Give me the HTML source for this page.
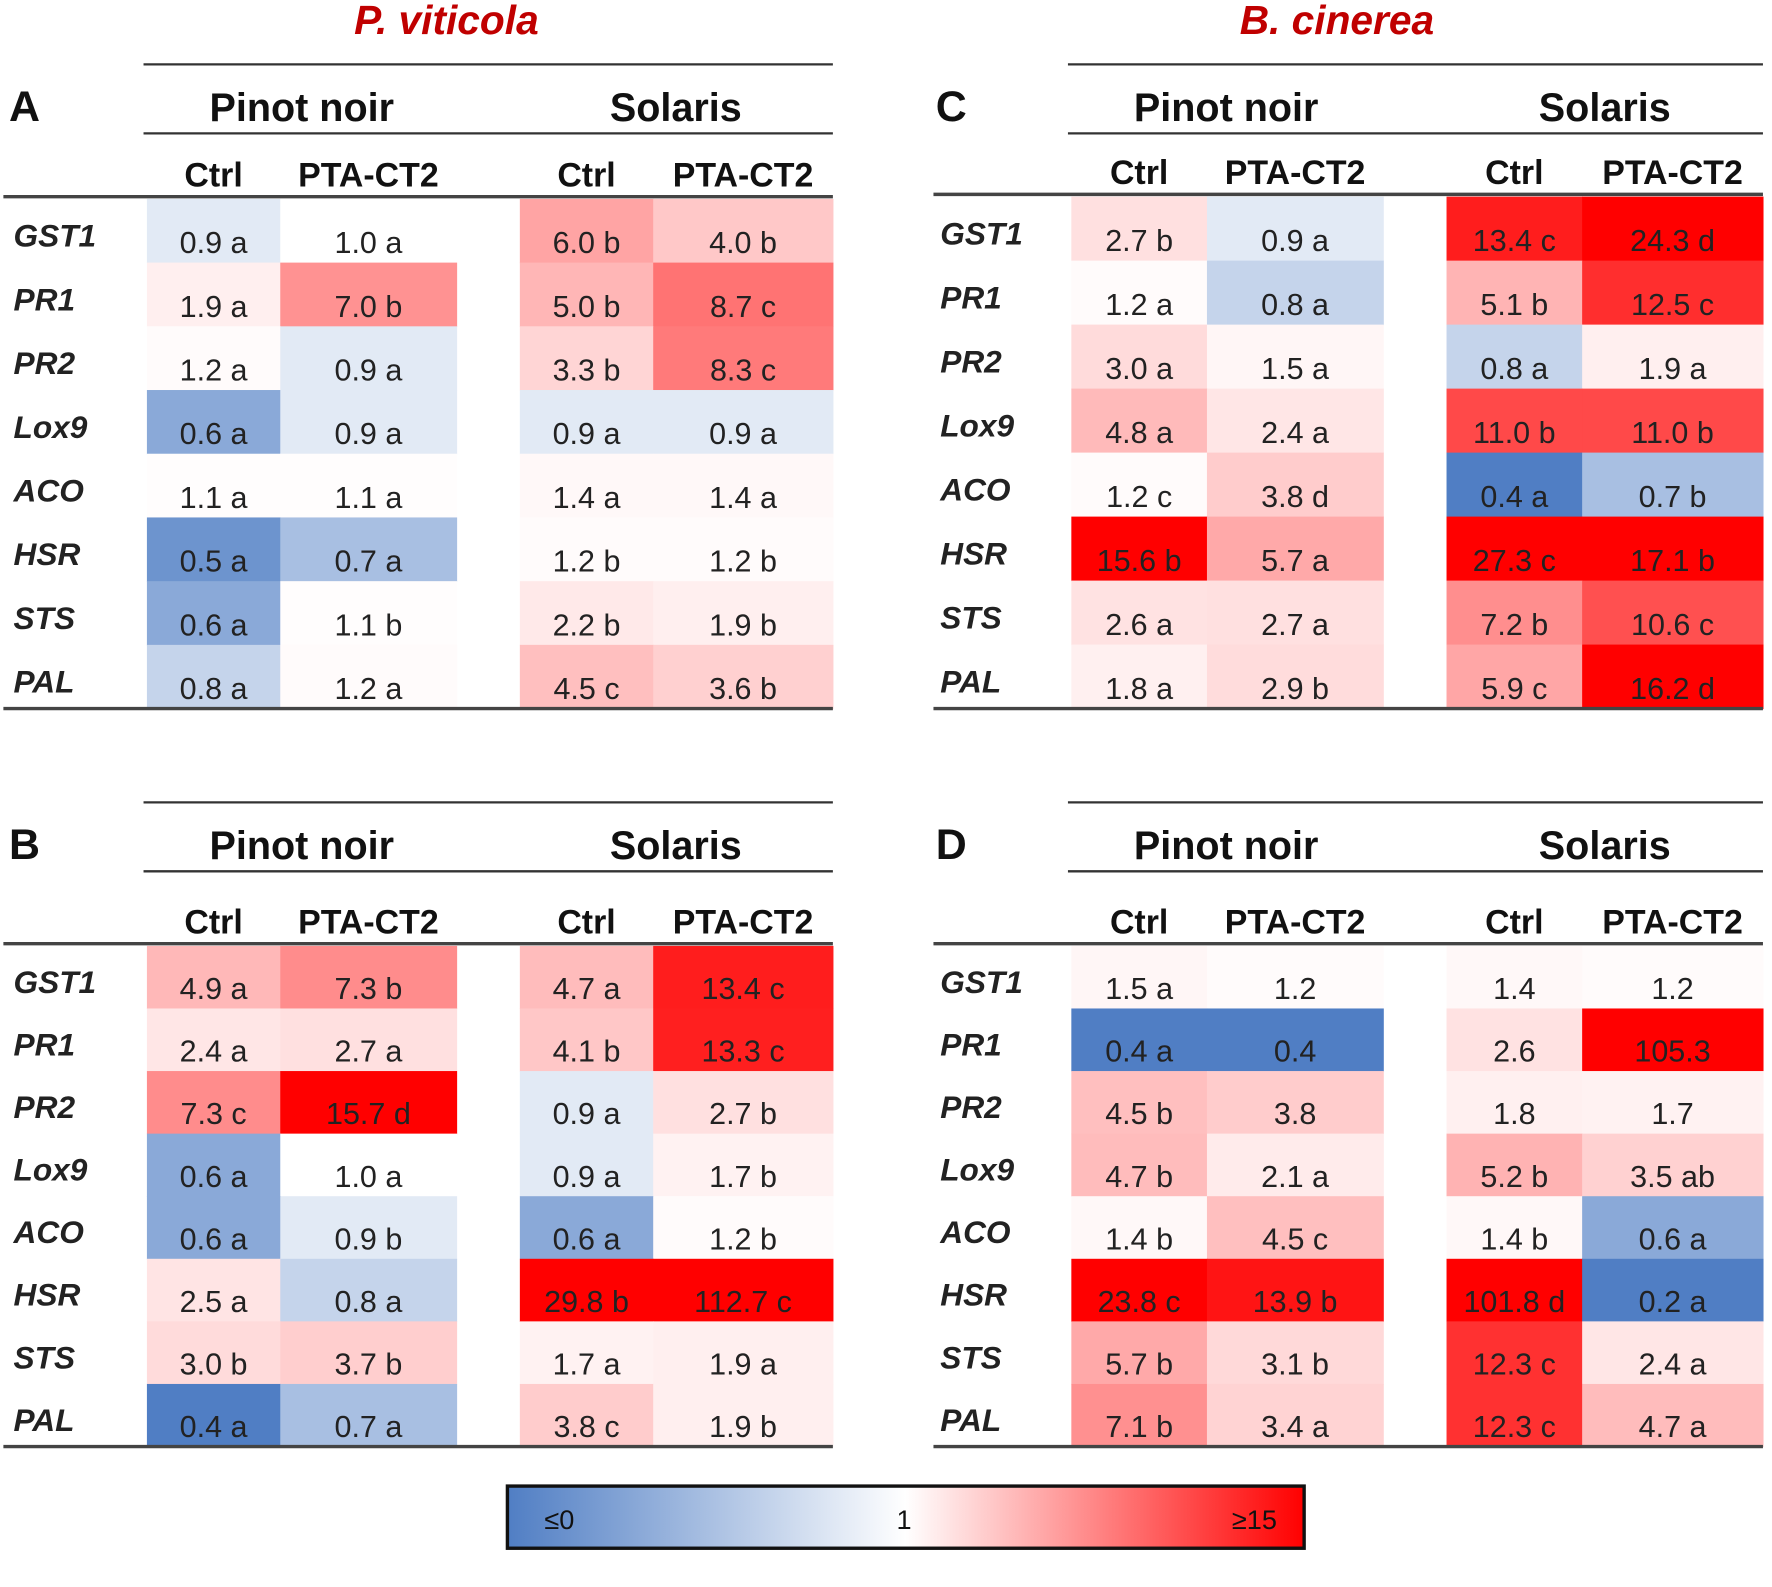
<!DOCTYPE html>
<html><head><meta charset="utf-8"><style>
html,body{margin:0;padding:0;background:#fff;}
svg{display:block;}
text{font-family:"Liberation Sans",Arial,sans-serif;}
</style></head><body>
<svg id="fig" xmlns="http://www.w3.org/2000/svg" width="1772" height="1587" viewBox="0 0 1568 1404.3"></svg>
<script>
const genes = ["GST1","PR1","PR2","Lox9","ACO","HSR","STS","PAL"];
const colLabels = ["Ctrl","PTA-CT2","Ctrl","PTA-CT2"];
const valuesA = [[0.9,1.0,6.0,4.0],[1.9,7.0,5.0,8.7],[1.2,0.9,3.3,8.3],[0.6,0.9,0.9,0.9],[1.1,1.1,1.4,1.4],[0.5,0.7,1.2,1.2],[0.6,1.1,2.2,1.9],[0.8,1.2,4.5,3.6]];
const lettersA = [["a","a","b","b"],["a","b","b","c"],["a","a","b","c"],["a","a","a","a"],["a","a","a","a"],["a","a","b","b"],["a","b","b","b"],["a","a","c","b"]];
const valuesB = [[4.9,7.3,4.7,13.4],[2.4,2.7,4.1,13.3],[7.3,15.7,0.9,2.7],[0.6,1.0,0.9,1.7],[0.6,0.9,0.6,1.2],[2.5,0.8,29.8,112.7],[3.0,3.7,1.7,1.9],[0.4,0.7,3.8,1.9]];
const lettersB = [["a","b","a","c"],["a","a","b","c"],["c","d","a","b"],["a","a","a","b"],["a","b","a","b"],["a","a","b","c"],["b","b","a","a"],["a","a","c","b"]];
const valuesC = [[2.7,0.9,13.4,24.3],[1.2,0.8,5.1,12.5],[3.0,1.5,0.8,1.9],[4.8,2.4,11.0,11.0],[1.2,3.8,0.4,0.7],[15.6,5.7,27.3,17.1],[2.6,2.7,7.2,10.6],[1.8,2.9,5.9,16.2]];
const lettersC = [["b","a","c","d"],["a","a","b","c"],["a","a","a","a"],["a","a","b","b"],["c","d","a","b"],["b","a","c","b"],["a","a","b","c"],["a","b","c","d"]];
const valuesD = [[1.5,1.2,1.4,1.2],[0.4,0.4,2.6,105.3],[4.5,3.8,1.8,1.7],[4.7,2.1,5.2,3.5],[1.4,4.5,1.4,0.6],[23.8,13.9,101.8,0.2],[5.7,3.1,12.3,2.4],[7.1,3.4,12.3,4.7]];
const lettersD = [["a","","",""],["a","","",""],["b","","",""],["b","a","b","ab"],["b","c","b","a"],["c","b","d","a"],["b","b","c","a"],["b","a","c","a"]];

const NS="http://www.w3.org/2000/svg";
const svg=document.getElementById('fig');
function mk(tag,attrs,parent){const e=document.createElementNS(NS,tag);for(const k in attrs)e.setAttribute(k,attrs[k]);(parent||svg).appendChild(e);return e;}
function color(v){
  if(v<1){let t=Math.min(1,(1-v)/0.6);const r=Math.round(255+(80-255)*t),g=Math.round(255+(126-255)*t),b=Math.round(255+(196-255)*t);return `rgb(${r},${g},${b})`;}
  let t=Math.min(1,(v-1)/14);return `rgb(255,${Math.round(255*(1-t))},${Math.round(255*(1-t))})`;
}
function panel(id,letter,vals,lets,y0,colX,labX,lineL,pnX,solX,dy){
  const g=mk('g',{});
  
  
  const right=colX[4];
  const l1=mk('line',{x1:colX[0]-3,x2:right,y1:y0,y2:y0,stroke:'#333','stroke-width':2},g);
  
  const pl=mk('text',{x:labX+2,y:y0+50,'font-size':38,'font-weight':'bold',fill:'#111'},g);pl.textContent=letter;
  
  const h1=mk('text',{x:pnX,y:y0+50,'font-size':35,'font-weight':'bold','text-anchor':'middle',fill:'#111'},g);h1.textContent='Pinot noir';
  
  const h2=mk('text',{x:solX,y:y0+50,'font-size':35,'font-weight':'bold','text-anchor':'middle',fill:'#111'},g);h2.textContent='Solaris';
  
  const l2=mk('line',{x1:colX[0]-3,x2:right,y1:y0+61,y2:y0+61,stroke:'#333','stroke-width':2},g);
  
  const xs=[colX[0],colX[1],colX[2],colX[3]];
  const xe=[colX[1],colX[1]+156,colX[3],colX[4]];
  for(let c=0;c<4;c++){
    const t=mk('text',{x:(xs[c]+xe[c])/2,y:y0+108-dy,'font-size':30,'font-weight':'bold','text-anchor':'middle',fill:'#111'},g);
    t.textContent=colLabels[c];
    
  }
  const hy=y0+117-dy;
  const l3=mk('line',{x1:lineL,x2:right,y1:hy,y2:hy,stroke:'#444','stroke-width':3},g);
  
  const top=hy+2,bot=y0+570,rh=(bot-top)/8;
  for(let r=0;r<8;r++){
    const y=top+r*rh;
    const gl=mk('text',{x:labX+6,y:y+rh*0.75,'font-size':28,'font-weight':'bold','font-style':'italic',fill:'#222'},g);
    gl.textContent=genes[r];
    
    for(let c=0;c<4;c++){
      const v=vals[r][c];
      const cell=mk('rect',{x:xs[c],y:y,width:xe[c]-xs[c]+0.5,height:rh+0.5,fill:color(v)},g);
      
      const tx=mk('text',{x:(xs[c]+xe[c])/2,y:y+rh*0.85,'font-size':27,'text-anchor':'middle',fill:'#222'},g);
      tx.textContent=v.toFixed(1)+(lets[r][c]?' '+lets[r][c]:'');
      
    }
  }
  const l4=mk('line',{x1:lineL,x2:right,y1:bot,y2:bot,stroke:'#444','stroke-width':3},g);
  
}
panel('a','A',valuesA,lettersA,57,[130,248,460,578,737],6,3,267,598,0);
panel('b','B',valuesB,lettersB,710,[130,248,460,578,737],6,3,267,598,-8);
panel('c','C',valuesC,lettersC,57,[948,1068,1280,1400,1560],826,826,1085,1420,2);
panel('d','D',valuesD,lettersD,710,[948,1068,1280,1400,1560],826,826,1085,1420,-8);

const t1=mk('text',{x:395,y:30,'font-size':36,'font-weight':'bold','font-style':'italic','text-anchor':'middle',fill:'#c00000'});
t1.textContent='P. viticola';


const t2=mk('text',{x:1183,y:30,'font-size':36,'font-weight':'bold','font-style':'italic','text-anchor':'middle',fill:'#c00000'});
t2.textContent='B. cinerea';



const defs=mk('defs',{});
const lg=mk('linearGradient',{id:'cb',x1:0,x2:1,y1:0,y2:0},defs);
mk('stop',{offset:'0',"stop-color":'rgb(80,126,196)'},lg);
mk('stop',{offset:'0.5',"stop-color":'#ffffff'},lg);
mk('stop',{offset:'1',"stop-color":'#ff0000'},lg);
const cb=mk('rect',{x:449,y:1315,width:705,height:55,fill:'url(#cb)',stroke:'#111','stroke-width':3});


const cbl=[["≤0",495],["1",800],["≥15",1110]];
cbl.forEach(([s,x])=>{const t=mk('text',{x:x,y:1353,'font-size':24,'text-anchor':'middle',fill:'#111'});t.textContent=s;

});
</script>
</body></html>
